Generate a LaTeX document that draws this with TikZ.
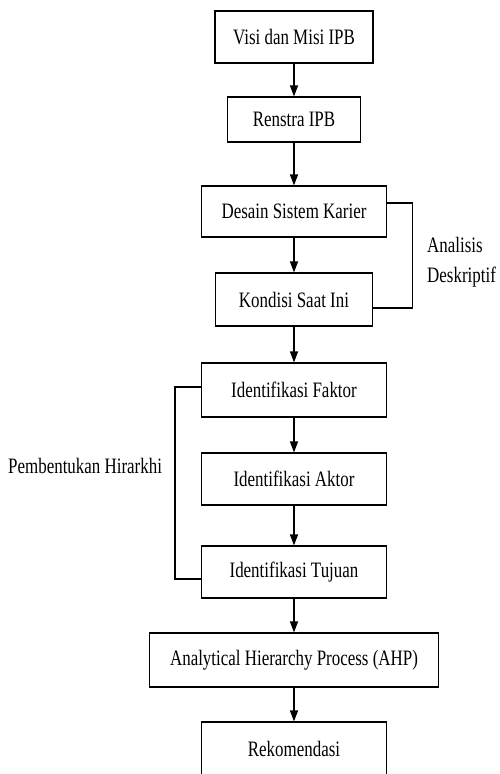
\documentclass[tikz,border=0pt]{standalone}
\usepackage{fontspec}
\setmainfont{Liberation Serif}[FakeStretch=0.77]
\usetikzlibrary{arrows.meta,positioning}

\begin{document}
\begin{tikzpicture}[
    x=1pt, y=-1pt,
    box/.style={draw, line width=1.1pt, inner sep=0pt, font=\fontsize{22}{26}\selectfont},
    flow/.style={-{Triangle[length=11pt,width=8pt]}, line width=1.1pt},
    link/.style={line width=1.1pt},
    lbl/.style={inner sep=0pt, font=\fontsize{22}{30}\selectfont}
  ]
  \clip (0,0) rectangle (499,774);

  % Alur utama
  \node[box, minimum width=158pt, minimum height=52pt] (visi) at (294,37) {Visi dan Misi IPB};
  \node[box, minimum width=133pt, minimum height=45pt] (renstra) at (294,119.5) {Renstra IPB};
  \node[box, minimum width=185pt, minimum height=51pt] (desain) at (294,211.5) {Desain Sistem Karier};
  \node[box, minimum width=157pt, minimum height=53pt] (kondisi) at (294,299.5) {Kondisi Saat Ini};
  \node[box, minimum width=185pt, minimum height=54pt] (faktor) at (294,390) {Identifikasi Faktor};
  \node[box, minimum width=185pt, minimum height=52pt] (aktor) at (294,479) {Identifikasi Aktor};
  \node[box, minimum width=185pt, minimum height=52pt] (tujuan) at (294,572) {Identifikasi Tujuan};
  \node[box, minimum width=289pt, minimum height=54pt] (ahp) at (294,660) {Analytical Hierarchy Process (AHP)};
  \node[box, minimum width=185pt, minimum height=54pt] (rekom) at (294,749) {Rekomendasi};

  \foreach \a/\b in {visi/renstra, renstra/desain, desain/kondisi, kondisi/faktor,
                     faktor/aktor, aktor/tujuan, tujuan/ahp, ahp/rekom}
    \draw[flow] (\a) -- (\b);

  % Kurung samping
  \draw[link] ([yshift=8.5pt]desain.east) -- ++(25,0) |- ([yshift=-8.5pt]kondisi.east);
  \draw[link] ([yshift=3pt]faktor.west) -- ++(-26,0) |- ([yshift=-7pt]tujuan.west);

  \node[lbl, anchor=west, align=left] (analisis) at (427,262) {Analisis\\Deskriptif};
  \node[lbl, anchor=base west] (hirarkhi) at (8,473) {Pembentukan Hirarkhi};
\end{tikzpicture}
\end{document}
